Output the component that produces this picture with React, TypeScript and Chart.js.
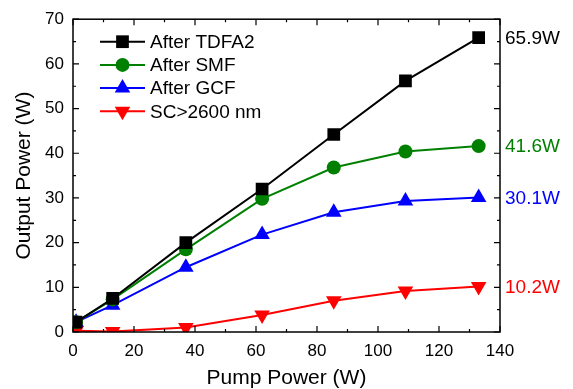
import React, { useEffect, useRef } from "react";
import { Chart, registerables } from "chart.js";
Chart.register(...registerables);

const pumpPower = [1, 13, 37, 62, 85.5, 109, 133];
const afterTDFA2 = [2.2, 7.5, 20.0, 32.0, 44.2, 56.2, 65.9];
const afterSMF = [2.2, 7.3, 18.5, 29.8, 36.8, 40.4, 41.6];
const afterGCF = [2.2, 6.0, 14.5, 21.8, 26.8, 29.3, 30.1];
const sc2600 = [0.3, 0.1, 1.0, 3.8, 7.0, 9.2, 10.2];
const seriesNames = ["After TDFA2", "After SMF", "After GCF", "SC>2600 nm"];
const endLabels = ["65.9W", "41.6W", "30.1W", "10.2W"];
const colors = ["#000000", "#008000", "#0000ff", "#ff0000"];

const FONT = "'Liberation Sans', Arial, sans-serif";

export default function App() {
  const ref = useRef<HTMLCanvasElement | null>(null);
  useEffect(() => {
    const values = [afterTDFA2, afterSMF, afterGCF, sc2600];
    const styles = ["rect", "circle", "triangle", "triangle"];
    const radii = [9, 7, 9, 9];
    const rotations = [0, 0, 0, 180];
    const frame = {
      id: "frame",
      afterDraw(chart: any) {
        const { ctx, chartArea: a } = chart;
        const xs = chart.scales.x;
        const ys = chart.scales.y;
        ctx.save();
        ctx.strokeStyle = "#000";
        ctx.lineWidth = 1.5;
        ctx.strokeRect(a.left, a.top, a.right - a.left, a.bottom - a.top);
        ctx.lineWidth = 1.2;
        for (let v = 0; v <= 140; v += 10) {
          const px = xs.getPixelForValue(v);
          const len = v % 20 === 0 ? 6 : 3;
          ctx.beginPath();
          ctx.moveTo(px, a.bottom); ctx.lineTo(px, a.bottom - len);
          ctx.moveTo(px, a.top); ctx.lineTo(px, a.top + len);
          ctx.stroke();
        }
        for (let v = 0; v <= 70; v += 5) {
          const py = ys.getPixelForValue(v);
          const len = v % 10 === 0 ? 6 : 3;
          ctx.beginPath();
          ctx.moveTo(a.left, py); ctx.lineTo(a.left + len, py);
          ctx.moveTo(a.right, py); ctx.lineTo(a.right - len, py);
          ctx.stroke();
        }
        // end labels
        ctx.font = `19px ${FONT}`;
        ctx.textBaseline = "middle";
        ctx.textAlign = "left";
        values.forEach((vals, i) => {
          ctx.fillStyle = colors[i];
          ctx.fillText(endLabels[i], a.right + 5, ys.getPixelForValue(vals[vals.length - 1]) + 1);
        });
        // legend
        const lx0 = a.left + 27;
        seriesNames.forEach((name, i) => {
          const y = a.top + 22.5 + i * 23.2;
          ctx.strokeStyle = colors[i];
          ctx.lineWidth = 2;
          ctx.beginPath();
          ctx.moveTo(lx0, y); ctx.lineTo(lx0 + 45, y);
          ctx.stroke();
          ctx.fillStyle = colors[i];
          const style = styles[i];
          const r = radii[i];
          ctx.beginPath();
          if (style === "rect") {
            const s = r * Math.SQRT1_2;
            ctx.rect(lx0 + 22.5 - s, y - s, 2 * s, 2 * s);
          } else if (style === "circle") {
            ctx.arc(lx0 + 22.5, y, r, 0, Math.PI * 2);
          } else {
            let rad = (rotations[i] * Math.PI) / 180;
            const cx = lx0 + 22.5;
            ctx.moveTo(cx + Math.sin(rad) * r, y - Math.cos(rad) * r);
            rad += (2 * Math.PI) / 3;
            ctx.lineTo(cx + Math.sin(rad) * r, y - Math.cos(rad) * r);
            rad += (2 * Math.PI) / 3;
            ctx.lineTo(cx + Math.sin(rad) * r, y - Math.cos(rad) * r);
            ctx.closePath();
          }
          ctx.fill();
          ctx.fillStyle = "#000";
          ctx.font = `19px ${FONT}`;
          ctx.textAlign = "left";
          ctx.fillText(name, lx0 + 50, y + 1);
        });
        ctx.restore();
      },
    };
    const chart = new Chart(ref.current as HTMLCanvasElement, {
      type: "line",
      data: {
        datasets: values.map((vals, i) => ({
          label: seriesNames[i],
          data: vals.map((v, j) => ({ x: pumpPower[j], y: v })),
          borderColor: colors[i],
          backgroundColor: colors[i],
          borderWidth: 2,
          pointStyle: styles[i] as any,
          pointRadius: radii[i],
          pointRotation: rotations[i],
          pointBorderWidth: 0,
          tension: 0,
        })),
      },
      options: {
        animation: false,
        responsive: false,
        events: [],
        layout: { padding: { top: 17, right: 73, left: 0, bottom: 0 } },
        plugins: { legend: { display: false }, tooltip: { enabled: false } },
        scales: {
          x: {
            type: "linear",
            min: 0,
            max: 140,
            grid: { display: false, drawTicks: false },
            border: { display: false },
            ticks: { stepSize: 20, color: "#000", padding: 9, font: { family: FONT, size: 17 } },
            title: { display: true, text: "Pump Power (W)", color: "#000", font: { family: FONT, size: 21 }, padding: { top: 2, bottom: -2 } },
            afterFit: (s: any) => { s.height = 57; },
          },
          y: {
            min: 0,
            max: 70,
            grid: { display: false, drawTicks: false },
            border: { display: false },
            ticks: { stepSize: 10, color: "#000", padding: 9, font: { family: FONT, size: 17 } },
            title: { display: true, text: "Output Power (W)", color: "#000", font: { family: FONT, size: 21 }, padding: { top: 12, bottom: 0 } },
            afterFit: (s: any) => { s.width = 73; },
          },
        },
      },
      plugins: [frame],
    });
    return () => chart.destroy();
  }, []);
  return (
    <div style={{ position: "absolute", left: 0, top: 0, width: 573, height: 389, background: "#fff" }}>
      <canvas ref={ref} width={573} height={389} />
    </div>
  );
}
